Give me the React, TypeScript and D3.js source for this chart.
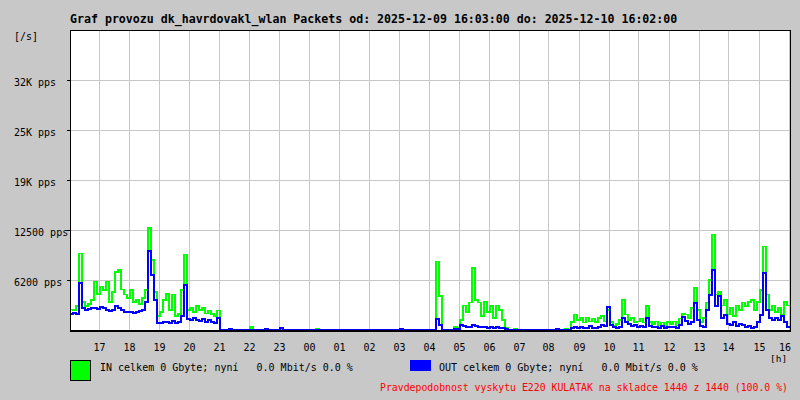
import React from 'react';
import * as d3 from 'd3';

// Packets per second, one sample every 6 minutes starting 2025-12-09 16:03
const inPps = [
  2600, 2500, 3000, 9600, 3500, 3000, 3250, 3750, 6100, 4500,
  5400, 5000, 6100, 3500, 4750, 7250, 7500, 5100, 4400, 4000,
  5000, 3500, 3750, 3250, 4000, 5000, 12750, 8750, 4750, 1750,
  2250, 3750, 4500, 2500, 4400, 1750, 2000, 5000, 9400, 2500,
  2750, 2250, 3000, 2500, 2750, 2100, 2400, 2000, 1750, 2400,
  0, 0, 0, 0, 0, 0, 0, 0, 0, 0,
  375, 0, 0, 0, 0, 0, 0, 0, 0, 0,
  0, 0, 0, 0, 0, 0, 0, 0, 0, 0,
  0, 0, 125, 0, 0, 0, 0, 0, 0, 0,
  0, 0, 0, 0, 0, 0, 0, 0, 0, 0,
  0, 0, 0, 0, 0, 0, 0, 0, 0, 0,
  0, 0, 0, 0, 0, 0, 0, 0, 0, 0,
  0, 0, 8600, 4250, 0, 0, 0, 0, 375, 250,
  1250, 3100, 2250, 3400, 7750, 3750, 3400, 1750, 3500, 2250,
  3000, 1500, 3100, 2500, 1250, 250, 0, 0, 125, 0,
  0, 0, 0, 0, 0, 0, 0, 0, 0, 0,
  0, 0, 0, 0, 0, 125, 0, 1000, 1900, 1250,
  1500, 900, 1600, 1100, 1400, 1000, 1500, 1750, 1100, 2500,
  1000, 600, 750, 1250, 3750, 1900, 1250, 1500, 1000, 1100,
  1400, 900, 3000, 1000, 750, 1100, 600, 900, 500, 1000,
  750, 1100, 600, 1400, 2000, 1900, 1500, 2750, 5250, 2500,
  1000, 1500, 3400, 6250, 11900, 4400, 4750, 3100, 3750, 1900,
  2750, 1750, 3100, 2500, 3400, 3000, 3500, 3750, 2500, 3500,
  5000, 10400, 4400, 2500, 3100, 2250, 2750, 1900, 3500, 3100,
];

const outPps = [
  2000, 2100, 2000, 5900, 2750, 2500, 2600, 2750, 2750, 2600,
  2900, 2750, 2500, 2400, 2500, 3000, 2750, 2500, 2250, 2250,
  2250, 2100, 2250, 2400, 2500, 3500, 9900, 6900, 3750, 875,
  875, 1000, 1000, 875, 1100, 875, 1000, 1750, 5600, 1400,
  1250, 1500, 1250, 1100, 1400, 1000, 1250, 1000, 875, 1500,
  0, 0, 0, 125, 0, 0, 0, 0, 0, 0,
  0, 0, 0, 0, 0, 125, 0, 0, 0, 0,
  250, 0, 0, 0, 0, 0, 0, 0, 0, 0,
  0, 0, 0, 0, 0, 0, 0, 0, 0, 0,
  0, 0, 0, 0, 0, 0, 0, 0, 0, 0,
  0, 0, 0, 0, 0, 0, 0, 0, 0, 0,
  125, 0, 0, 0, 0, 0, 0, 0, 0, 0,
  0, 0, 1400, 625, 0, 0, 0, 0, 125, 125,
  625, 500, 375, 375, 625, 500, 375, 375, 375, 250,
  375, 250, 375, 250, 250, 125, 0, 0, 0, 0,
  0, 0, 0, 0, 0, 0, 0, 0, 0, 0,
  0, 0, 125, 0, 0, 0, 0, 250, 375, 250,
  375, 250, 250, 500, 250, 250, 375, 625, 500, 2900,
  625, 375, 250, 375, 1500, 1000, 750, 500, 625, 375,
  500, 375, 1500, 500, 375, 375, 250, 500, 250, 375,
  375, 375, 250, 625, 1600, 1100, 750, 1000, 3400, 1250,
  500, 375, 2500, 4400, 7500, 3000, 4250, 1500, 1900, 750,
  625, 1000, 500, 750, 625, 375, 500, 250, 375, 1000,
  1900, 7100, 2500, 1500, 1250, 1500, 1250, 1750, 1000, 375,
];

const sampleMinutes = 6;
const totalMinutes = 1440;
const firstHourOffset = 57; // 16:03 -> 17:00
const hourLabels = ['17', '18', '19', '20', '21', '22', '23', '00', '01', '02', '03', '04', '05', '06', '07', '08', '09', '10', '11', '12', '13', '14', '15', '16'];
const yTickValues = [6250, 12500, 18750, 25000, 31250];
const yTickLabels = ['6200 pps', '12500 pps', '19K pps', '25K pps', '32K pps'];

const titleText = 'Graf provozu dk_havrdovakl_wlan Packets od: 2025-12-09 16:03:00 do: 2025-12-10 16:02:00';
const inLegend = 'IN celkem 0 Gbyte; nyní   0.0 Mbit/s 0.0 %';
const outLegend = 'OUT celkem 0 Gbyte; nyní   0.0 Mbit/s 0.0 %';
const noteText = 'Pravdepodobnost vyskytu E220 KULATAK na skladce 1440 z 1440 (100.0 %)';

const FONT = '"DejaVu Sans Mono", "Liberation Mono", monospace';
const BG = '#c8c8c8';
const GRID = '#c8c8c8';

export default function App() {
  const L = 70, R = 790, T = 30, B = 330;
  const x = d3.scaleLinear().domain([0, totalMinutes]).range([L, R]);
  const y = d3.scaleLinear().domain([0, 37500]).range([B, T]);

  const toPts = (arr: number[]): [number, number][] => [
    ...arr.map((v, i) => [i * sampleMinutes, v] as [number, number]),
    [totalMinutes, arr[arr.length - 1]],
  ];
  const line = d3
    .line<[number, number]>()
    .x((d) => x(d[0]))
    .y((d) => y(d[1]))
    .curve(d3.curveStepAfter);

  const inPath = line(toPts(inPps)) || '';
  const outPath = line(toPts(outPps)) || '';

  const hourX = hourLabels.map((_, k) => Math.round(x(firstHourOffset + 60 * k)) + 0.5);

  return (
    <svg
      width={800}
      height={400}
      style={{ position: 'absolute', left: 0, top: 0, display: 'block' }}
      fontFamily={FONT}
    >
      <rect x={0} y={0} width={800} height={400} fill={BG} />
      <rect x={L} y={T} width={R - L} height={B - T} fill="#ffffff" />
      <defs>
        <clipPath id="plotclip">
          <rect x={L + 1} y={T + 1} width={R - L - 1} height={B - T} />
        </clipPath>
      </defs>

      {/* grid */}
      <g shapeRendering="crispEdges" stroke={GRID} strokeWidth={1}>
        {hourX.map((hx, k) => (
          <line key={'v' + k} x1={hx} x2={hx} y1={T} y2={B} />
        ))}
        {yTickValues.map((v, k) => (
          <line key={'h' + k} x1={L} x2={R} y1={Math.round(y(v)) + 0.5} y2={Math.round(y(v)) + 0.5} />
        ))}
      </g>

      {/* data */}
      <g clipPath="url(#plotclip)">
        <path d={inPath} fill="none" stroke="#00ff00" strokeWidth={1.2} shapeRendering="crispEdges" />
        <path d={outPath} fill="none" stroke="#0000ff" strokeWidth={2} shapeRendering="crispEdges" />
      </g>

      {/* frame */}
      <g shapeRendering="crispEdges" stroke="#000">
        <line x1={L + 0.5} x2={L + 0.5} y1={T} y2={B} strokeWidth={1} />
        <line x1={L} x2={R + 1} y1={T + 0.5} y2={T + 0.5} strokeWidth={1} />
        <line x1={R + 0.5} x2={R + 0.5} y1={T} y2={B} strokeWidth={1} />
        <line x1={L} x2={R + 1} y1={B + 1} y2={B + 1} strokeWidth={2} />
        {yTickValues.map((v, k) => (
          <line key={'t' + k} x1={L - 3} x2={L} y1={Math.round(y(v)) + 0.5} y2={Math.round(y(v)) + 0.5} strokeWidth={1} />
        ))}
      </g>

      {/* title */}
      <text x={L} y={23} fontSize={11.6} fontWeight="bold" fill="#000">
        {titleText}
      </text>

      {/* y labels */}
      <text x={14} y={40} fontSize={10} fill="#000">[/s]</text>
      {yTickValues.map((v, k) => (
        <text key={'yl' + k} x={14} y={Math.round(y(v)) + 6} fontSize={10} fill="#000">
          {yTickLabels[k]}
        </text>
      ))}

      {/* x labels */}
      {hourLabels.map((lab, k) => (
        <text
          key={'xl' + k}
          x={Math.min(hourX[k], 785)}
          y={350.5}
          fontSize={10}
          textAnchor="middle"
          fill="#000"
        >
          {lab}
        </text>
      ))}
      <text x={770} y={361.5} fontSize={9.5} fill="#000">[h]</text>

      {/* legend */}
      <rect x={70.5} y={360.5} width={20} height={20} fill="#00ff00" stroke="#000" strokeWidth={1} shapeRendering="crispEdges" />
      <text x={100} y={370.5} fontSize={10} fill="#000" style={{ whiteSpace: 'pre' }}>
        {inLegend}
      </text>
      <rect x={410} y={360} width={21} height={11} fill="#0000ff" shapeRendering="crispEdges" />
      <text x={439} y={370.5} fontSize={10} fill="#000" style={{ whiteSpace: 'pre' }}>
        {outLegend}
      </text>
      <text x={380} y={390.5} fontSize={10} fill="#ff0000" textLength={408} lengthAdjust="spacingAndGlyphs">
        {noteText}
      </text>
    </svg>
  );
}
